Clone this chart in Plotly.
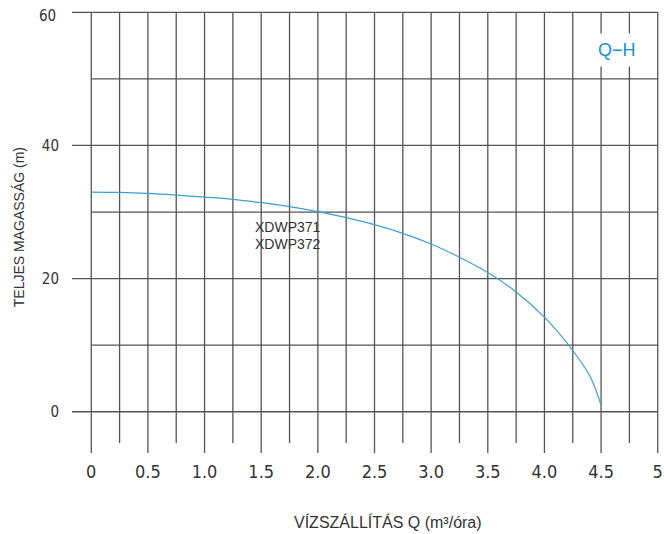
import plotly.graph_objects as go

# Curve data (Q in m3/h, H in m)
q = [0, 0.25, 0.5, 0.75, 1.0, 1.25, 1.5, 1.75, 2.0, 2.25, 2.5, 2.75, 3.0, 3.25, 3.5, 3.75, 4.0, 4.25, 4.4, 4.5]
h = [33.0, 32.95, 32.8, 32.55, 32.25, 31.9, 31.4, 30.8, 30.05, 29.15, 28.1, 26.8, 25.2, 23.2, 20.9, 18.0, 14.2, 9.2, 5.4, 1.0]

x_tick_vals = [0, 0.5, 1.0, 1.5, 2.0, 2.5, 3.0, 3.5, 4.0, 4.5, 5]
x_tick_text = ["0", "0.5", "1.0", "1.5", "2.0", "2.5", "3.0", "3.5", "4.0", "4.5", "5"]
y_tick_vals = [0, 20, 40]
y_tick_text = ["0", "20", "40"]
y_top_val = 60
y_top_text = "60"
x_grid = [i * 0.25 for i in range(21)]
y_grid = [0, 10, 20, 30, 40, 50, 60]
model_names = ["XDWP371", "XDWP372"]

X_MIN, X_MAX = -0.17, 5.02
Y_MIN, Y_MAX = -6.2, 60.2

fig = go.Figure()

shapes = []
grid_color = "#555555"
for i, xv in enumerate(x_grid):
    bottom = Y_MIN if i % 2 == 0 else -4.7
    shapes.append(dict(type="line", xref="x", yref="y", x0=xv, x1=xv, y0=bottom, y1=60,
                       line=dict(color=grid_color, width=1.3), layer="below"))
for yv in y_grid:
    left = X_MIN if yv % 20 == 0 else 0
    shapes.append(dict(type="line", xref="x", yref="y", x0=left, x1=5, y0=yv, y1=yv,
                       line=dict(color=grid_color, width=1.3), layer="below"))

fig.add_trace(go.Scatter(x=q, y=h, mode="lines", line=dict(color="#3a9fd6", width=1.2, shape="spline", smoothing=1.0),
                         hoverinfo="skip", showlegend=False))

tick_font = "Liberation Sans Narrow, DejaVu Sans Condensed, Arial Narrow, sans-serif"
txt_font = "Liberation Sans, Arial, sans-serif"

annotations = [
    dict(text="TELJES MAGASSÁG (m)", xref="paper", yref="paper", x=-0.090, y=0.511,
         xanchor="center", yanchor="middle", textangle=-90, showarrow=False,
         font=dict(family=txt_font, size=14, color="#333333")),
    dict(text="VÍZSZÁLLÍTÁS Q (m³/óra)", xref="paper", yref="paper", x=0.537, y=-0.156,
         xanchor="center", yanchor="middle", showarrow=False,
         font=dict(family=txt_font, size=16, color="#333333")),
    dict(text="Q−H", xref="x", yref="y", x=4.64, y=54.3, xanchor="center", yanchor="middle",
         showarrow=False, bgcolor="white", borderpad=6,
         font=dict(family=txt_font, size=18, color="#1a8fd0")),
    dict(text=y_top_text, xref="paper", yref="y", x=0, y=y_top_val, xanchor="right", yanchor="middle",
         xshift=-14, yshift=-4, showarrow=False,
         font=dict(family=tick_font, size=15, color="#333333")),
]
for k, name in enumerate(model_names):
    annotations.append(dict(text=name, xref="x", yref="y", x=1.43, y=27.7 - k * 2.5,
                            xanchor="left", yanchor="middle", showarrow=False,
                            font=dict(family=txt_font, size=14, color="#333333")))

fig.update_layout(
    width=664, height=534,
    margin=dict(l=72, r=4, t=11, b=81),
    paper_bgcolor="white", plot_bgcolor="white",
    showlegend=False,
    shapes=shapes,
    xaxis=dict(range=[X_MIN, X_MAX], tickvals=x_tick_vals, ticktext=x_tick_text, showgrid=False,
               zeroline=False, showline=False, ticks="", ticklabelstandoff=6, automargin=False,
               ticklabeloverflow="allow",
               tickfont=dict(family=tick_font, size=18, color="#333333")),
    yaxis=dict(range=[Y_MIN, Y_MAX], tickvals=y_tick_vals, ticktext=y_tick_text, showgrid=False,
               zeroline=False, showline=False, ticks="", ticklabelstandoff=12, automargin=False,
               ticklabeloverflow="allow",
               tickfont=dict(family=tick_font, size=15, color="#333333")),
    annotations=annotations,
)

fig.write_html("out.html", config={"displayModeBar": False},
               post_script="document.body.style.margin='0';document.body.style.overflow='hidden';")
